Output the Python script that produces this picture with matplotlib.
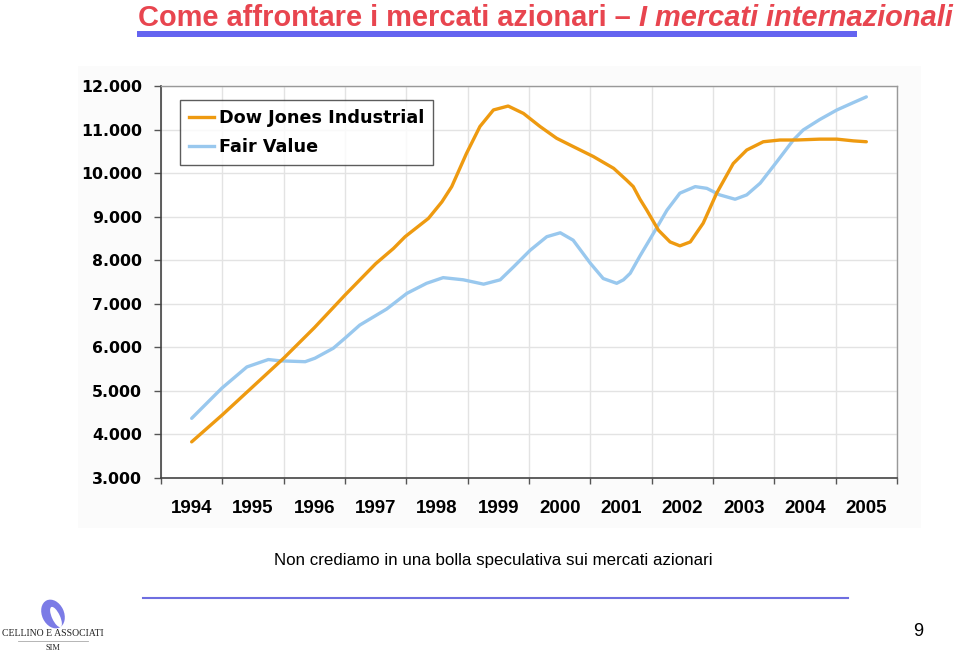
import matplotlib
matplotlib.use("Agg")
import matplotlib.pyplot as plt
from matplotlib.patches import Rectangle, Ellipse
from matplotlib.lines import Line2D

# ---- data (decimal years, index points in thousands) ----
dj_years = [1994.00, 1994.50, 1995.00, 1995.50, 1996.00, 1996.50, 1997.00, 1997.29, 1997.48,
            1997.86, 1998.08, 1998.24, 1998.48, 1998.70, 1998.92, 1999.16, 1999.41, 1999.68,
            1999.95, 2000.22, 2000.55, 2000.88, 2001.09, 2001.20, 2001.31, 2001.42, 2001.61,
            2001.80, 2001.96, 2002.13, 2002.34, 2002.56, 2002.83, 2003.05, 2003.32, 2003.59,
            2003.86, 2004.24, 2004.52, 2004.79, 2005.00]
dj_values = [3.83, 4.45, 5.10, 5.75, 6.45, 7.20, 7.92, 8.27, 8.54,
             8.96, 9.34, 9.69, 10.45, 11.07, 11.45, 11.54, 11.37, 11.07,
             10.80, 10.61, 10.38, 10.11, 9.84, 9.69, 9.40, 9.15, 8.69,
             8.42, 8.33, 8.42, 8.85, 9.54, 10.22, 10.53, 10.72, 10.76,
             10.76, 10.78, 10.78, 10.74, 10.72]

fv_years = [1994.00, 1994.49, 1994.90, 1995.25, 1995.44, 1995.85, 1996.01, 1996.31, 1996.50,
            1996.74, 1997.18, 1997.51, 1997.83, 1998.10, 1998.43, 1998.76, 1999.03, 1999.25,
            1999.52, 1999.79, 2000.01, 2000.22, 2000.50, 2000.71, 2000.93, 2001.04, 2001.15,
            2001.31, 2001.53, 2001.75, 2001.96, 2002.21, 2002.40, 2002.61, 2002.86, 2003.05,
            2003.27, 2003.54, 2003.81, 2003.97, 2004.24, 2004.52, 2004.79, 2005.00]
fv_values = [4.37, 5.06, 5.55, 5.72, 5.69, 5.67, 5.75, 5.98, 6.21,
             6.51, 6.88, 7.24, 7.47, 7.60, 7.55, 7.45, 7.55, 7.85,
             8.23, 8.54, 8.63, 8.46, 7.93, 7.58, 7.47, 7.55, 7.70,
             8.10, 8.62, 9.15, 9.54, 9.69, 9.65, 9.50, 9.40, 9.50,
             9.77, 10.26, 10.76, 10.99, 11.23, 11.45, 11.62, 11.75]

year_labels = ["1994", "1995", "1996", "1997", "1998", "1999",
               "2000", "2001", "2002", "2003", "2004", "2005"]
y_ticks = [3, 4, 5, 6, 7, 8, 9, 10, 11, 12]
y_labels = ["3.000", "4.000", "5.000", "6.000", "7.000", "8.000",
            "9.000", "10.000", "11.000", "12.000"]

series_names = ["Dow Jones Industrial", "Fair Value"]
title_main = "Come affrontare i mercati azionari \u2013 "
title_italic = "I mercati internazionali"
subtitle = "Non crediamo in una bolla speculativa sui mercati azionari"

W, H = 960, 656
fig = plt.figure(figsize=(W / 100, H / 100), dpi=100)
fig.patch.set_facecolor("white")

def fx(px):
    return px / W

def fy(py):
    return 1 - py / H

# overlay axes in pixel coordinates for decorations (drawn beneath the chart)
ax2 = fig.add_axes([0, 0, 1, 1], facecolor="none", zorder=0)
ax2.set_axis_off()
ax2.set_xlim(0, W)
ax2.set_ylim(H, 0)

# faint chart image background
ax2.add_patch(Rectangle((78, 66), 843, 462, facecolor="#fbfbfb", edgecolor="none", zorder=0))

ax = fig.add_axes([fx(161), fy(478), fx(897) - fx(161), fy(86) - fy(478)], zorder=2)
ax.set_facecolor("white")

orange = "#EE9A10"
blue = "#99C8EE"
ax.plot(fv_years, fv_values, color=blue, lw=2.4, solid_joinstyle="round",
        solid_capstyle="round", zorder=3)
ax.plot(dj_years, dj_values, color=orange, lw=2.4, solid_joinstyle="round",
        solid_capstyle="round", zorder=4)

ax.set_xlim(1993.5, 2005.5)
ax.set_ylim(3, 12)

bounds = [1993.5 + i for i in range(13)]
ax.set_xticks(bounds)
ax.set_xticklabels([])
ax.set_xticks([1994 + i for i in range(12)], minor=True)
ax.set_xticklabels(year_labels, minor=True, fontfamily="Liberation Sans",
                   fontweight="bold", fontsize=13.5)
ax.tick_params(axis="x", which="minor", length=0, pad=15.5)
ax.tick_params(axis="x", which="major", length=4.5, width=1, color="#555555", direction="out")

ax.set_yticks(y_ticks)
ax.set_yticklabels(y_labels, fontfamily="DejaVu Sans", fontweight="bold", fontsize=11.3)
ax.tick_params(axis="y", length=5, width=1, color="#555555", direction="out", pad=8.6)

ax.grid(True, which="major", color="#e3e3e3", lw=1.0)
ax.set_axisbelow(True)
for s in ["left", "bottom"]:
    ax.spines[s].set_color("#444444")
    ax.spines[s].set_linewidth(1.2)
for s in ["top", "right"]:
    ax.spines[s].set_color("#999999")
    ax.spines[s].set_linewidth(1.0)

handles = [Line2D([], [], color=orange, lw=2.4), Line2D([], [], color=blue, lw=2.4)]
leg = ax.legend(handles, series_names, loc="upper left",
                bbox_to_anchor=((180 - 161) / (897 - 161), 1 - (100 - 86) / (478 - 86)),
                prop={"family": "DejaVu Sans", "weight": "bold", "size": 12.7},
                frameon=True, fancybox=False, borderpad=0.5, handlelength=1.4,
                handletextpad=0.3, labelspacing=0.65, borderaxespad=0)
leg.get_frame().set_edgecolor("#333333")
leg.get_frame().set_linewidth(1.0)

# title
t1 = fig.text(fx(138), fy(26), title_main, color="#E8454F", fontfamily="Liberation Sans",
              fontweight="bold", fontsize=20.9, ha="left", va="baseline")
ax2.annotate(title_italic, xy=(1, 0), xycoords=t1, xytext=(0, 0), textcoords="offset points",
             color="#E8454F", fontfamily="Liberation Sans", fontweight="bold",
             fontstyle="italic", fontsize=20.9, ha="left", va="bottom")

# title underline bar
ax2.add_patch(Rectangle((137, 31), 720, 6, facecolor="#6464F0", edgecolor="none"))

# subtitle
ax2.text(493, 560, subtitle, fontfamily="Liberation Sans", fontsize=12.2,
         ha="center", va="center", color="black")

# bottom rule
ax2.plot([143, 848], [598, 598], color="#6E6EE0", lw=1.5)

# logo
ax2.add_patch(Ellipse((53, 614), 22, 30, angle=-25, facecolor="#7B7BE6", edgecolor="none"))
ax2.add_patch(Ellipse((56, 617), 8, 22, angle=-25, facecolor="white", edgecolor="none"))
ax2.text(53, 634, "CELLINO E ASSOCIATI", fontfamily="Liberation Serif", fontsize=7.0,
         ha="center", va="center", color="#222222")
ax2.plot([18, 88], [641, 641], color="#aaaaaa", lw=0.6)
ax2.text(53, 648, "SIM", fontfamily="Liberation Serif", fontsize=6, ha="center",
         va="center", color="#222222")

# page number
ax2.text(918, 632, "9", fontfamily="Liberation Sans", fontsize=13, ha="center",
         va="center", color="black")

fig.savefig("out.png", dpi=100)
